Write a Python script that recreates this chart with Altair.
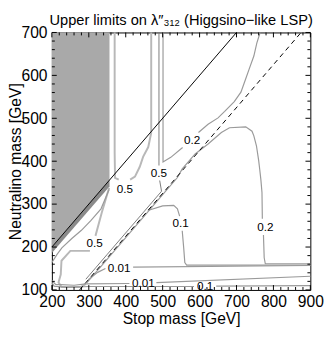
import altair as alt
import pandas as pd

W, H = 265, 264
FONT = "Liberation Sans"

# ---- data (GeV) ----
x_major = [200, 300, 400, 500, 600, 700, 800, 900]
y_major = [100, 200, 300, 400, 500, 600, 700]
x_minor = [v for v in range(200, 901, 20) if v % 100]
y_minor = [v for v in range(100, 701, 20) if v % 100]

shade_x = [200, 356]
shade_lo = [200, 356]
shade_hi = [700, 700]
wedge_lo = [186, 341]

diag_x = [200, 700]
diag_y = [200, 700]
dash_x = [275, 875]
dash_y = [100, 700]

# contour segments: name -> (style, [(xs, ys), ...])
c05_v = ("light", [
    ([370, 370, 371, 381], [700, 420, 361, 357]),
    ([412, 425, 438, 447, 461, 469, 469], [357, 364, 387, 410, 433, 466, 700]),
])
c05_dark = ("dark", [
    ([490, 490], [700, 390]),
    ([492, 497, 470, 430, 390, 350, 320, 300, 292], [355, 330, 303, 263, 223, 183, 153, 133, 125]),
])
c02_up = ("mid", [
    ([501, 501, 522, 554], [700, 398, 409, 432]),
    ([597, 623, 650, 668, 694, 712, 725, 734, 747, 755, 764],
     [467, 486, 501, 516, 539, 561, 592, 614, 645, 675, 700]),
])
c02_lo = ("mid", [
    ([295, 350, 400, 450, 500, 540, 553, 588, 623, 659, 681, 725, 742, 747, 754, 760, 763, 766, 769, 770],
     [117, 172, 222, 272, 322, 362, 382, 417, 440, 467, 478, 480, 470, 459, 436, 402, 380, 357, 327, 266]),
    ([773, 775, 778, 900], [228, 175, 161, 161]),
])
c01_up = ("mid", [
    ([460, 500, 530, 540, 546], [285, 296, 297, 289, 272]),
    ([553, 557, 560, 565, 900], [238, 198, 164, 158, 158]),
])
c001_up = ("mid", [
    ([300, 324, 345], [125, 141, 150]),
    ([420, 900], [153, 157]),
])
c001_lo = ("mid", [
    ([200, 210, 260, 292, 410], [122, 113, 111, 114, 115]),
    ([483, 900], [117, 132]),
])
c01_lo = ("mid", [
    ([200, 206, 240, 300, 585], [117, 109, 106, 108, 108]),
    ([645, 900], [109, 110]),
])
c05_bl = ("light", [
    ([355, 335, 318], [338, 280, 226]),
    ([303, 250, 226, 224, 218, 226, 279, 292], [191, 191, 168, 136, 118, 107, 107, 114]),
])
c05_edge = ("mid", [
    ([200, 214, 227, 254, 280, 306, 333, 355], [164, 183, 198, 220, 239, 262, 289, 334]),
])

label_text = ["0.5", "0.5", "0.5", "0.2", "0.2", "0.1", "0.01", "0.01", "0.1"]
label_x = [398, 490, 316, 580, 778, 549, 382, 448, 615]
label_y = [334, 373, 209, 450, 247, 255, 152, 116, 109]

# ---- build tables ----
rows = []
for name, (style, segs) in {
    "c05_v": c05_v, "c05_dark": c05_dark, "c02_up": c02_up, "c02_lo": c02_lo,
    "c01_up": c01_up, "c001_up": c001_up, "c001_lo": c001_lo, "c01_lo": c01_lo,
    "c05_bl": c05_bl, "c05_edge": c05_edge,
}.items():
    for si, (xs_, ys_) in enumerate(segs):
        for i, (a, b) in enumerate(zip(xs_, ys_)):
            rows.append({"seg": f"{name}_{si}", "style": style, "i": i, "x": a, "y": b})
cdf = pd.DataFrame(rows)

xs = alt.Scale(domain=[200, 900], nice=False, zero=False)
ys = alt.Scale(domain=[100, 700], nice=False, zero=False)

xaxis = alt.Axis(values=x_major, ticks=False, domain=False, grid=False, labelFontSize=16,
                 labelFont=FONT, labelColor="black", labelPadding=4, labelFlush=False,
                 labelOverlap=False, format="d", title="Stop mass [GeV]", titleFont=FONT,
                 titleFontSize=16, titleFontWeight="normal", titleColor="black", titlePadding=1)
yaxis = alt.Axis(values=y_major, ticks=False, domain=False, grid=False, labelFontSize=16,
                 labelFont=FONT, labelColor="black", labelPadding=5, labelFlush=False,
                 labelOverlap=False, format="d", title="Neutralino mass [GeV]", titleFont=FONT,
                 titleFontSize=16, titleFontWeight="normal", titleColor="black",
                 titleX=-32, titleY=H / 2, titleBaseline="alphabetic", titleAngle=270)


def X(f):
    return alt.X(f, type="quantitative", scale=xs, axis=xaxis)


def Y(f):
    return alt.Y(f, type="quantitative", scale=ys, axis=yaxis)


shade = alt.Chart(pd.DataFrame({"x": shade_x, "lo": shade_lo, "hi": shade_hi})).mark_area(
    color="#a9a9a9", opacity=1).encode(x=X("x"), y=Y("lo"), y2="hi:Q")
wedge = alt.Chart(pd.DataFrame({"x": shade_x, "lo": wedge_lo, "hi": shade_lo})).mark_area(
    color="#8a8a8a", opacity=1).encode(x=X("x"), y=Y("lo"), y2="hi:Q")

styles = {"light": ("#b8b8b8", 2.0), "mid": ("#9a9a9a", 1.2), "dark": ("#7a7a7a", 1.0)}
line_layers = []
for st, (col, sw) in styles.items():
    line_layers.append(
        alt.Chart(cdf[cdf["style"] == st]).mark_line(color=col, strokeWidth=sw).encode(
            x=X("x"), y=Y("y"), detail="seg:N", order="i:Q"))

solid = alt.Chart(pd.DataFrame({"x": diag_x, "y": diag_y})).mark_line(
    color="black", strokeWidth=1).encode(x=X("x"), y=Y("y"))
dashed = alt.Chart(pd.DataFrame({"x": dash_x, "y": dash_y})).mark_line(
    color="black", strokeWidth=1, strokeDash=[5, 4]).encode(x=X("x"), y=Y("y"))

labels = alt.Chart(pd.DataFrame({"t": label_text, "x": label_x, "y": label_y})).mark_text(
    font=FONT, fontSize=12, color="black", baseline="middle", align="center").encode(
    x=X("x"), y=Y("y"), text="t:N")


def xticks(vals, ln):
    d = pd.DataFrame({"x": vals})
    b = alt.Chart(d).mark_rule(color="black", strokeWidth=1).encode(
        x=X("x"), y=alt.value(H), y2=alt.value(H - ln))
    t = alt.Chart(d).mark_rule(color="black", strokeWidth=1).encode(
        x=X("x"), y=alt.value(0), y2=alt.value(ln))
    return [b, t]


def yticks(vals, ln):
    d = pd.DataFrame({"y": vals})
    l = alt.Chart(d).mark_rule(color="black", strokeWidth=1).encode(
        y=Y("y"), x=alt.value(0), x2=alt.value(ln))
    r = alt.Chart(d).mark_rule(color="black", strokeWidth=1).encode(
        y=Y("y"), x=alt.value(W), x2=alt.value(W - ln))
    return [l, r]


ticks = xticks(x_major, 5) + xticks(x_minor, 3) + yticks(y_major, 5) + yticks(y_minor, 3)

chart = alt.layer(shade, wedge, *line_layers, solid, dashed, labels, *ticks).properties(
    width=W, height=H,
    title=alt.TitleParams(text="Upper limits on λ″₃₁₂ (Higgsino−like LSP)", font=FONT,
                          fontSize=15, fontWeight="normal", color="black", anchor="middle",
                          offset=-3),
    autosize=alt.AutoSizeParams(type="none"),
    padding={"left": 45, "top": 21, "right": 14, "bottom": 38},
).configure_view(stroke="black", strokeWidth=1)

chart.save("out.html", embed_options={"renderer": "svg", "actions": False})
